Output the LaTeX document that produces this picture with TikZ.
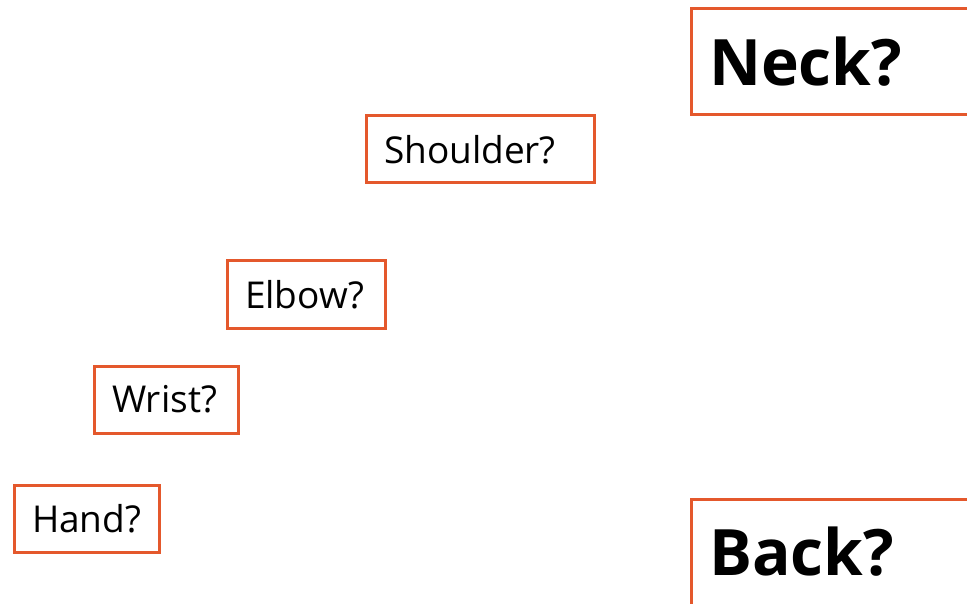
\documentclass[tikz,border=0pt]{standalone}
\usepackage{fontspec}
\setmainfont{Open Sans}
\usetikzlibrary{positioning}
\definecolor{jointOrange}{RGB}{228,88,44}
\tikzset{
    jointbox/.style={
        rectangle,
        draw=jointOrange,
        line width=3pt,
        anchor=north west,
        align=left,
        inner xsep=18pt,
        inner ysep=0pt,
        minimum height=67pt,
        font=\fontsize{37}{44}\selectfont
    },
    regionbox/.style={
        jointbox,
        minimum height=106pt,
        font=\bfseries\fontsize{64}{76}\selectfont
    }
}
\begin{document}
\begin{tikzpicture}[x=1pt, y=-1pt]
    \useasboundingbox (0,0) rectangle (967,604);
    \clip (0,0) rectangle (967,604);
    % big boxes on the right, cut by the page edge
    \node[regionbox, text width=283pt] (neck) at (689.5,7.5) {Neck?};
    \node[regionbox, text width=283pt] (back) at (689.5,497.5) {Back?};
    % joints down the arm
    \node[jointbox, text width=192pt] (shoulder) at (364.5,114.5) {Shoulder?};
    \node[jointbox, text width=122pt] (elbow) at (225.5,259.5) {Elbow?};
    \node[jointbox, text width=108pt] (wrist) at (92.5,364.5) {Wrist?};
    \node[jointbox, text width=109pt] (hand) at (12.5,483.5) {Hand?};
\end{tikzpicture}
\end{document}
